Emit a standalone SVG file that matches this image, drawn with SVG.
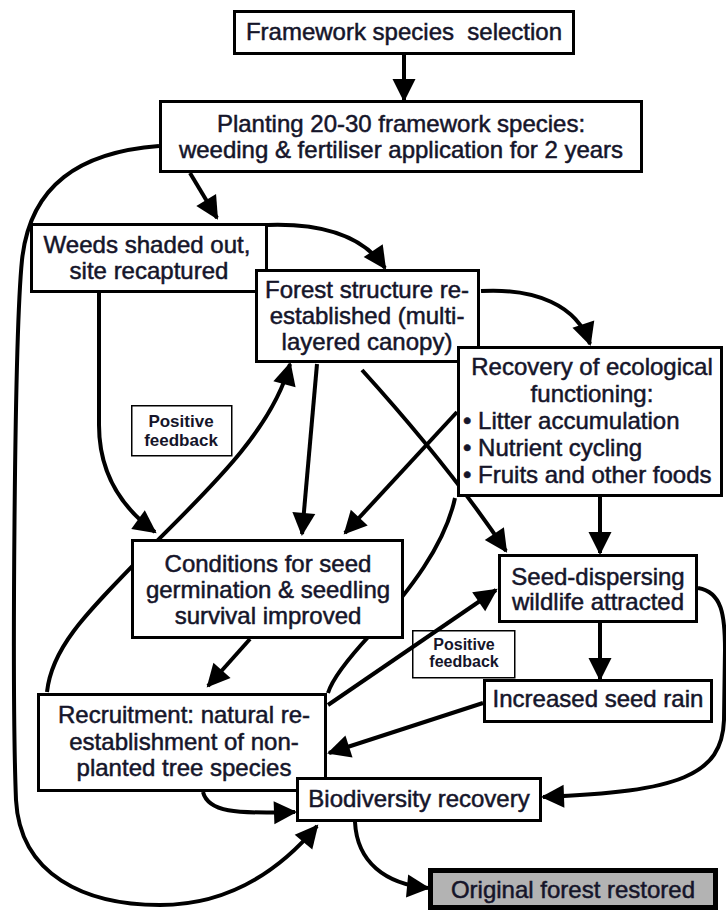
<svg xmlns="http://www.w3.org/2000/svg" width="726" height="913" viewBox="0 0 726 913">
<style>
  .box { fill: #fff; stroke: #000; stroke-width: 3; }
  .lbl { fill: #fff; stroke: #000; stroke-width: 1.5; }
  .end { fill: #b3b3b3; stroke: #000; stroke-width: 5; }
  .t { font-family: "Liberation Sans", Arial, sans-serif; font-size: 24px; fill: #15152a; stroke: #15152a; stroke-width: 0.5; text-anchor: middle; }
  .tl { font-family: "Liberation Sans", Arial, sans-serif; font-size: 24px; fill: #15152a; stroke: #15152a; stroke-width: 0.5; text-anchor: start; }
  .pf { font-family: "Liberation Sans", Arial, sans-serif; font-size: 17px; font-weight: bold; fill: #15152a; text-anchor: middle; }
  .c { fill: none; stroke: #000; stroke-width: 4; }
  .a { marker-end: url(#ah); }
</style>
<defs>
  <marker id="ah" markerUnits="userSpaceOnUse" markerWidth="24" markerHeight="24" refX="21" refY="11.5" orient="auto" overflow="visible">
    <path d="M0,0 L23,11.5 L0,23 z" fill="#000"/>
  </marker>
</defs>
<rect width="726" height="913" fill="#fff"/>

<g id="feedback-labels">
  <g id="pf1">
    <rect class="lbl" x="131.75" y="405.75" width="100" height="50"/>
    <text class="pf" x="181" y="427">Positive</text>
    <text class="pf" x="181" y="446">feedback</text>
  </g>
  <g id="pf2">
    <rect class="lbl" x="412.75" y="630.75" width="102" height="47"/>
    <text class="pf" x="464" y="650" style="font-size:16px">Positive</text>
    <text class="pf" x="464" y="667" style="font-size:16px">feedback</text>
  </g>
</g>

<g id="connectors">
  <path class="c a" d="M404,55 L404,100"/>
  <path class="c a" d="M190,173 L217,218"/>
  <path class="c a" d="M159,146 C80,152 30,185 22,260 C14,340 12,700 16,800 C20,875 85,905 160,905 C230,905 280,870 317,826"/>
  <path class="c a" d="M268,225 C330,223 366,240 385,268"/>
  <path class="c a" d="M481,291 C535,288 577,305 590,344"/>
  <path class="c a" d="M99,293 L99,425 C99,470 118,505 155,532"/>
  <path class="c a" d="M47,692 C52,645 90,610 150,548 C210,488 272,430 290,364"/>
  <path class="c a" d="M317,364 L302,534"/>
  <path class="c a" d="M362,370 C400,412 460,482 506,551"/>
  <path class="c a" d="M457,412 L345,533"/>
  <path class="c a" d="M600,497 L600,553"/>
  <path class="c" d="M455,498 C445,545 410,590 370,635 C345,662 332,680 328,693"/>
  <path class="c a" d="M250,639 L208,686"/>
  <path class="c a" d="M600,623 L600,679"/>
  <path class="c a" d="M328,705 L496,590"/>
  <path class="c a" d="M483,703 L329,753"/>
  <path class="c a" d="M698,588 C722,592 725,615 725,650 L724,720 C722,775 680,792 543,797"/>
  <path class="c a" d="M203,792 C208,812 235,814 295,812"/>
  <path class="c a" d="M355,822 C357,862 385,884 428,888"/>
</g>

<g id="planting">
  <rect class="box" x="160.5" y="101.5" width="481" height="70"/>
  <text class="t" x="401" y="132">Planting 20-30 framework species:</text>
  <text class="t" x="401" y="158">weeding &amp; fertiliser application for 2 years</text>
</g>
<g id="selection">
  <rect class="box" x="234.5" y="11.5" width="339" height="42"/>
  <text class="t" x="404" y="40" xml:space="preserve">Framework species  selection</text>
</g>
<g id="weeds">
  <rect class="box" x="31.5" y="224.5" width="235" height="67"/>
  <text class="t" x="147" y="253" textLength="207" lengthAdjust="spacingAndGlyphs">Weeds shaded out,</text>
  <text class="t" x="149" y="279">site recaptured</text>
</g>
<g id="forest-structure">
  <rect class="box" x="256.5" y="270.5" width="222" height="91"/>
  <text class="t" x="367" y="298">Forest structure re-</text>
  <text class="t" x="367" y="324">established (multi-</text>
  <text class="t" x="367" y="350">layered canopy)</text>
</g>
<g id="recovery">
  <rect class="box" x="458.5" y="347.5" width="263" height="148"/>
  <text class="t" x="592" y="375">Recovery of ecological</text>
  <text class="t" x="592" y="402">functioning:</text>
  <text class="tl" x="463" y="429">• Litter accumulation</text>
  <text class="tl" x="463" y="456">• Nutrient cycling</text>
  <text class="tl" x="463" y="483">• Fruits and other foods</text>
</g>
<g id="conditions">
  <rect class="box" x="132.5" y="540.5" width="270" height="97"/>
  <text class="t" x="268" y="572">Conditions for seed</text>
  <text class="t" x="268" y="598">germination &amp; seedling</text>
  <text class="t" x="268" y="624">survival improved</text>
</g>
<g id="seed-dispersing">
  <rect class="box" x="499.5" y="555.5" width="197" height="66"/>
  <text class="t" x="598" y="585">Seed-dispersing</text>
  <text class="t" x="598" y="610">wildlife attracted</text>
</g>
<g id="seed-rain">
  <rect class="box" x="484.5" y="680.5" width="227" height="41"/>
  <text class="t" x="598" y="707">Increased seed rain</text>
</g>
<g id="recruitment">
  <rect class="box" x="38.5" y="694.5" width="287" height="96"/>
  <text class="t" x="184" y="723">Recruitment: natural re-</text>
  <text class="t" x="184" y="750">establishment of non-</text>
  <text class="t" x="184" y="776">planted tree species</text>
</g>
<g id="biodiversity">
  <rect class="box" x="297.5" y="778.5" width="243" height="42"/>
  <text class="t" x="419" y="807">Biodiversity recovery</text>
</g>
<g id="original-forest">
  <rect class="end" x="430.5" y="870.5" width="285" height="37"/>
  <text class="t" x="573" y="898">Original forest restored</text>
</g>
</svg>
